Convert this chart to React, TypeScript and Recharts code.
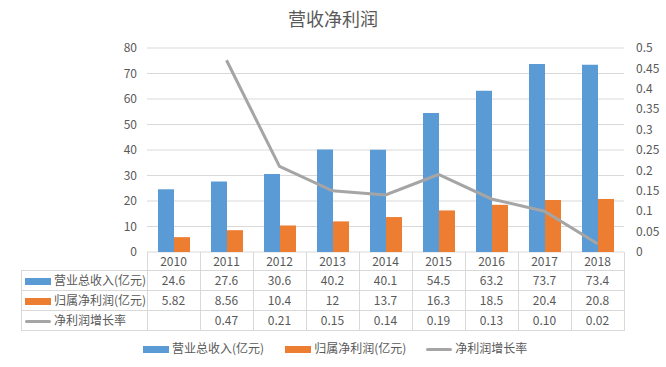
import React from 'react'
import { ComposedChart, Bar, Line, XAxis, YAxis, CartesianGrid } from 'recharts'

const years = ['2010', '2011', '2012', '2013', '2014', '2015', '2016', '2017', '2018']
const revenue = [24.6, 27.6, 30.6, 40.2, 40.1, 54.5, 63.2, 73.7, 73.4]
const profit = [5.82, 8.56, 10.4, 12, 13.7, 16.3, 18.5, 20.4, 20.8]
const growth: (number | null)[] = [null, 0.47, 0.21, 0.15, 0.14, 0.19, 0.13, 0.1, 0.02]
const growthLabels = ['', '0.47', '0.21', '0.15', '0.14', '0.19', '0.13', '0.10', '0.02']
const leftTicks = [0, 10, 20, 30, 40, 50, 60, 70, 80]
const rightTicks = [0, 0.05, 0.1, 0.15, 0.2, 0.25, 0.3, 0.35, 0.4, 0.45, 0.5]

const seriesNames = ['营业总收入(亿元)', '归属净利润(亿元)', '净利润增长率']
const colors = ['#5B9BD5', '#ED7D31', '#A5A5A5']

const data = years.map((y, i) => ({ year: y, revenue: revenue[i], profit: profit[i], growth: growth[i] }))

if (typeof document !== 'undefined') document.body.style.margin = '0'

const FONT = '"Noto Sans CJK SC", "Noto Sans", sans-serif'
const TEXT = '#595959'
const GRID = '#D9D9D9'

// plot area: x 147..624, y 48..252
const PLOT_L = 147
const PLOT_R = 624
const COL_W = (PLOT_R - PLOT_L) / years.length

function Key({ i }: { i: number }) {
  if (i === 2) {
    return <span style={{ display: 'inline-block', width: 26, height: 3, borderRadius: 2, background: colors[i], marginRight: 3, verticalAlign: 'middle' }} />
  }
  return <span style={{ display: 'inline-block', width: 26, height: 7, background: colors[i], marginRight: 3, verticalAlign: 'middle' }} />
}

function DataTable() {
  const rows = [revenue.map(String), profit.map(String), growthLabels]
  const cell: React.CSSProperties = { position: 'absolute', textAlign: 'center', fontSize: 12, color: TEXT, lineHeight: '20px' }
  const lines: React.ReactNode[] = []
  // header vertical lines
  for (let c = 0; c <= years.length; c++) {
    lines.push(<div key={'hv' + c} style={{ position: 'absolute', left: PLOT_L + c * COL_W, top: 252, width: 1, height: 78, background: GRID }} />)
  }
  lines.push(<div key="lv" style={{ position: 'absolute', left: 21, top: 270, width: 1, height: 60, background: GRID }} />)
  for (let r = 0; r <= 3; r++) {
    lines.push(<div key={'h' + r} style={{ position: 'absolute', left: 21, top: 270 + r * 20, width: PLOT_R - 21 + 1, height: 1, background: GRID }} />)
  }
  return (
    <div style={{ position: 'absolute', left: 0, top: 0, width: 666, height: 367, fontFamily: FONT, pointerEvents: 'none' }}>
      {lines}
      {years.map((y, c) => (
        <div key={'y' + y} style={{ ...cell, left: PLOT_L + c * COL_W, top: 251, width: COL_W, lineHeight: '19px' }}>{y}</div>
      ))}
      {rows.map((row, r) => (
        <React.Fragment key={'r' + r}>
          <div style={{ ...cell, left: 25, top: 270 + r * 20, textAlign: 'left', whiteSpace: 'nowrap' }}>
            <Key i={r} />{seriesNames[r]}
          </div>
          {row.map((v, c) => (
            <div key={c} style={{ ...cell, left: PLOT_L + c * COL_W, top: 270 + r * 20, width: COL_W }}>{v}</div>
          ))}
        </React.Fragment>
      ))}
      <div style={{ position: 'absolute', left: 143, top: 339, fontSize: 12, color: TEXT, whiteSpace: 'nowrap', lineHeight: '18px' }}>
        <span><Key i={0} />{seriesNames[0]}</span>
        <span style={{ marginLeft: 21 }}><Key i={1} />{seriesNames[1]}</span>
        <span style={{ marginLeft: 20 }}><Key i={2} />{seriesNames[2]}</span>
      </div>
    </div>
  )
}

export default function App() {
  return (
    <div style={{ position: 'relative', width: 666, height: 367, background: '#fff', fontFamily: FONT }}>
      <div style={{ position: 'absolute', left: 0, top: 5, width: 666, textAlign: 'center', fontSize: 18, color: TEXT, fontFamily: FONT }}>营收净利润</div>
      <ComposedChart width={666} height={367} data={data} margin={{ top: 48, right: 0, bottom: 115, left: 0 }} barCategoryGap={11} barGap={0}>
        <CartesianGrid yAxisId="l" vertical={false} stroke={GRID} />
        <XAxis dataKey="year" hide />
        <YAxis yAxisId="l" width={PLOT_L} domain={[0, 80]} ticks={leftTicks} axisLine={false} tickLine={false} tickSize={0} tickMargin={10}
          tick={{ fill: TEXT, fontSize: 12, fontFamily: FONT }} interval={0} />
        <YAxis yAxisId="r" orientation="right" width={666 - PLOT_R} domain={[0, 0.5]} ticks={rightTicks} axisLine={false} tickLine={false} tickSize={0} tickMargin={12}
          tick={{ fill: TEXT, fontSize: 12, fontFamily: FONT, textAnchor: 'start' }} interval={0} />
        <Bar yAxisId="l" dataKey="revenue" fill={colors[0]} isAnimationActive={false} />
        <Bar yAxisId="l" dataKey="profit" fill={colors[1]} isAnimationActive={false} />
        <Line yAxisId="r" dataKey="growth" stroke={colors[2]} strokeWidth={3} dot={false} type="linear" isAnimationActive={false} />
      </ComposedChart>
      <DataTable />
    </div>
  )
}
